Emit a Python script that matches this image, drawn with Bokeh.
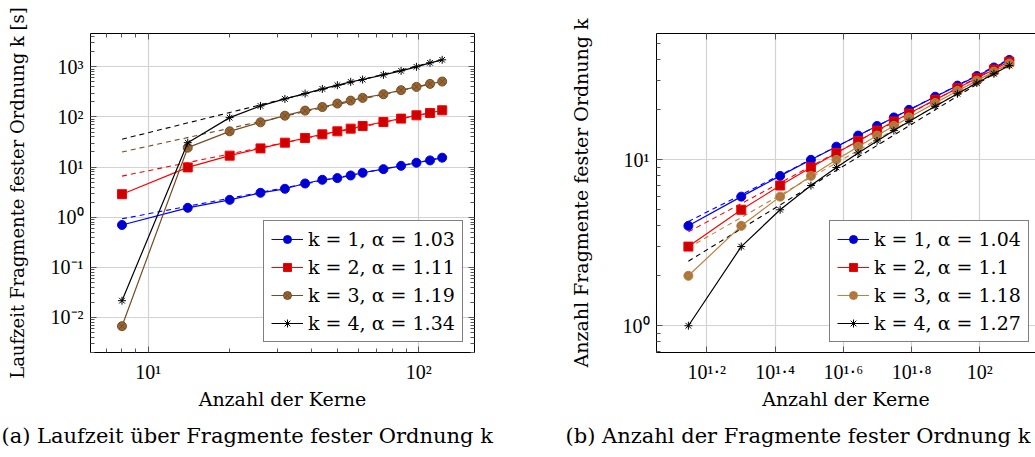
import numpy as np
from bokeh.plotting import figure
from bokeh.models import FixedTicker, LogAxis, Legend, LegendItem, Range1d, Title
from bokeh.layouts import row
from bokeh.embed import file_html
from bokeh.resources import INLINE

# ---------------- data: (a) runtime ----------------
cores_a = [8, 14, 20, 26, 32, 38, 44, 50, 56, 62, 74, 86, 98, 110, 122]
time_k1 = [0.70, 1.54, 2.22, 3.07, 3.69, 4.71, 5.58, 6.03, 6.8, 7.7, 9.1, 10.6, 12.2, 13.6, 15.4]
time_k2 = [2.88, 9.85, 16.9, 23.6, 30.7, 38, 45, 51.7, 58.5, 66, 79.4, 92.7, 108, 120, 136]
time_k3 = [0.0067, 24.4, 51.7, 78.2, 106, 134, 158, 185, 212, 240, 284, 342, 398, 457, 509]
time_k4 = [0.0216, 30.7, 97, 166, 229, 293, 363, 430, 501, 558, 692, 832, 1000, 1202, 1380]
fit_a_x = [8, 122]
fit_a_k1 = [0.93, 15.4]
fit_a_k2 = [6.6, 136]
fit_a_k3 = [20, 510]
fit_a_k4 = [36, 1380]
labels_a = ["k = 1, α = 1.03", "k = 2, α = 1.11", "k = 3, α = 1.19", "k = 4, α = 1.34"]

# ---------------- data: (b) fragment counts ----------------
cores_b = [14, 20, 26, 32, 38, 44, 50, 56, 62, 74, 86, 98, 110, 122]
frag_k1 = [4, 6, 8, 10, 12, 14, 16, 18, 20, 24, 28, 32, 36, 40]
frag_k2 = [3, 5, 7, 9, 11, 13, 15, 17, 19, 23, 27, 31, 35, 39]
frag_k3 = [2, 4, 6, 8, 10, 12, 14, 16, 18, 22, 26, 30, 34, 38]
frag_k4 = [1, 3, 5, 7, 9, 11, 13, 15, 17, 21, 25, 29, 33, 37]
fit_b_x = [14, 122]
fit_b_k1 = [4.25, 40.5]
fit_b_k2 = [3.68, 39.8]
fit_b_k3 = [2.95, 38.0]
fit_b_k4 = [2.45, 37.6]
labels_b = ["k = 1, α = 1.04", "k = 2, α = 1.1", "k = 3, α = 1.18", "k = 4, α = 1.27"]

# ---------------- ticks ----------------
a_xexp = ["1", "2"]
a_xminor = [7, 8, 9, 20, 30, 40, 50, 60, 70, 80, 90]
a_yexp = ["-2", "-1", "0", "1", "2", "3"]
a_yminor = [m * 10.0 ** e for e in range(-3, 4) for m in range(2, 10)]
b_xexp = ["1.2", "1.4", "1.6", "1.8", "2"]
b_yexp = ["0", "1"]
b_yminor = [0.7, 0.8, 0.9, 2, 3, 4, 5, 6, 7, 8, 9, 20, 30, 40, 50]

SERIF = "DejaVu Serif"
NUMF = "Liberation Serif"

BLUE, BLUE_F = "#0000ff", "#0000cc"
RED, RED_F = "#ff0000", "#cc0000"
BROWN_A, BROWN_A_F = "#734d26", "#996633"
BROWN_B, BROWN_B_F = "#bf8040", "#a8743f"
BLACK = "#000000"

SUP = str.maketrans("0123456789-.", "⁰¹²³⁴⁵⁶⁷⁸⁹⁻·")


def ticks_from(exps):
    vals = [10 ** float(e) for e in exps]
    labs = {v: "10" + e.translate(SUP) for v, e in zip(vals, exps)}
    return vals, labs


def make_fig(width, left, right, xr, yr, xexp, xminor, yexp, yminor, right_axis,
             xtitle, ytitle, ytitle_size, ytitle_standoff, caption, cap_offset):
    p = figure(width=width, height=457, x_axis_type="log", y_axis_type="log",
               x_range=Range1d(*xr), y_range=Range1d(*yr),
               output_backend="svg", toolbar_location=None,
               min_border_left=left, min_border_right=right,
               min_border_top=33, min_border_bottom=105)
    p.outline_line_color = None
    p.background_fill_color = "white"
    p.border_fill_color = "white"
    xt, xlabs = ticks_from(xexp)
    yt, ylabs = ticks_from(yexp)
    xtk = FixedTicker(ticks=xt, minor_ticks=xminor)
    ytk = FixedTicker(ticks=yt, minor_ticks=yminor)
    p.xaxis.ticker = xtk
    p.yaxis.ticker = ytk
    p.xgrid.ticker = xtk
    p.ygrid.ticker = ytk
    p.grid.grid_line_color = "#d2d2d2"
    p.grid.grid_line_width = 1.2
    extra = [LogAxis(ticker=xtk)]
    p.add_layout(extra[0], "above")
    if right_axis:
        extra.append(LogAxis(ticker=ytk))
        p.add_layout(extra[-1], "right")
    for ax in list(p.xaxis) + list(p.yaxis) + extra:
        ax.axis_line_color = "black"
        ax.axis_line_width = 1
        ax.major_tick_in = 6
        ax.major_tick_out = 0
        ax.minor_tick_in = 4
        ax.minor_tick_out = 0
        ax.major_tick_line_color = "#555555"
        ax.minor_tick_line_color = "#555555"
    for ax in extra:
        ax.major_label_text_font_size = "8px"
        ax.major_label_text_color = None
        ax.major_label_standoff = 0
    bx = p.below[0]
    ly = p.left[0]
    bx.major_label_overrides = xlabs
    ly.major_label_overrides = ylabs
    for ax in (bx, ly):
        ax.major_label_text_font = NUMF
        ax.major_label_text_font_size = "20px"
        ax.major_label_text_color = "black"
        ax.major_label_standoff = 7
        ax.axis_label_text_font = SERIF
        ax.axis_label_text_font_style = "normal"
        ax.axis_label_text_color = "black"
    bx.major_label_standoff = 8
    bx.axis_label = xtitle
    bx.axis_label_text_font_size = "19px"
    bx.axis_label_standoff = 2
    ly.axis_label = ytitle
    ly.axis_label_text_font_size = ytitle_size
    ly.axis_label_standoff = ytitle_standoff
    cap = Title(text=caption, align="left", offset=cap_offset, text_font=SERIF,
                text_font_size="21px", text_font_style="normal", text_color="black",
                standoff=19)
    p.add_layout(cap, "below")
    return p


def series(p, x, ys, fits_x, fits, labels, styles):
    items = []
    for fy, (col, fill, marker) in zip(fits, styles):
        p.line(fits_x, fy, color=col, line_width=1.1, line_dash="5 4")
    for y, lab, (col, fill, marker) in zip(ys, labels, styles):
        l = p.line(x, y, color=col, line_width=1.2)
        if marker == "asterisk":
            s = p.scatter(x, y, marker="asterisk", size=8, line_color=col, line_width=1.0)
        else:
            s = p.scatter(x, y, marker=marker, size=9, fill_color=fill, line_color=col,
                          line_width=1.0)
        items.append(LegendItem(label=lab, renderers=[l, s]))
    leg = Legend(items=items, location=(173, 10), border_line_color="black",
                 border_line_width=1, background_fill_color="white", background_fill_alpha=1,
                 label_text_font=SERIF, label_text_font_size="19px", label_text_color="black",
                 glyph_width=32, glyph_height=20, label_height=20, label_standoff=5,
                 padding=7, spacing=6, margin=0)
    p.add_layout(leg)


# ---------------- figure (a) ----------------
pa = make_fig(520, 90, 46, (6.12, 160.6), (0.002, 4624), a_xexp, a_xminor,
              a_yexp, a_yminor, True, "Anzahl der Kerne",
              "Laufzeit Fragmente fester Ordnung k [s]", "18px", 20,
              "(a) Laufzeit über Fragmente fester Ordnung k", -89)
styles_a = [(BLUE, BLUE_F, "circle"), (RED, RED_F, "square"),
            (BROWN_A, BROWN_A_F, "circle_x"), (BLACK, BLACK, "asterisk")]
series(pa, cores_a, [time_k1, time_k2, time_k3, time_k4], fit_a_x,
       [fit_a_k1, fit_a_k2, fit_a_k3, fit_a_k4], labels_a, styles_a)

# ---------------- figure (b) ----------------
pb = make_fig(515, 136, 0, (11.29, 145.6), (0.690, 57.7), b_xexp, [],
              b_yexp, b_yminor, False, "Anzahl der Kerne",
              "Anzahl Fragmente fester Ordnung k", "19px", 28,
              "(b) Anzahl der Fragmente fester Ordnung k", -91)
styles_b = [(BLUE, BLUE_F, "circle"), (RED, RED_F, "square"),
            (BROWN_B, BROWN_B_F, "circle_x"), (BLACK, BLACK, "asterisk")]
series(pb, cores_b, [frag_k1, frag_k2, frag_k3, frag_k4], fit_b_x,
       [fit_b_k1, fit_b_k2, fit_b_k3, fit_b_k4], labels_b, styles_b)

layout = row(pa, pb)
open("out.html", "w").write(file_html(layout, INLINE))
